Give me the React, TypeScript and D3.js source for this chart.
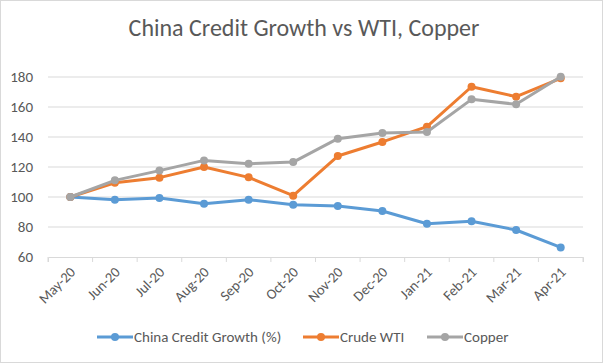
import { useEffect, useRef } from 'react';
import * as d3 from 'd3';

const months = ['May-20', 'Jun-20', 'Jul-20', 'Aug-20', 'Sep-20', 'Oct-20', 'Nov-20', 'Dec-20', 'Jan-21', 'Feb-21', 'Mar-21', 'Apr-21'];
const creditGrowth = [100, 98.2, 99.3, 95.5, 98.2, 94.9, 94, 90.7, 82.2, 83.8, 78, 66.4];
const crudeWti = [100, 109.5, 112.9, 120, 113.1, 100.9, 127.3, 136.7, 146.9, 173.5, 166.9, 179.1];
const copper = [100, 111.1, 117.6, 124.4, 122.2, 123.3, 138.9, 142.7, 143.3, 165.1, 161.8, 180.2];
const yTicks = [60, 80, 100, 120, 140, 160, 180];

const series = [
  { name: 'China Credit Growth (%)', values: creditGrowth, color: '#5B9BD5' },
  { name: 'Crude WTI', values: crudeWti, color: '#ED7D31' },
  { name: 'Copper', values: copper, color: '#A5A5A5' },
];

const W = 603;
const H = 363;
const font = "Carlito, 'Liberation Sans', Arial, sans-serif";

const App = () => {
  const ref = useRef<SVGSVGElement | null>(null);

  useEffect(() => {
    const svg = d3.select(ref.current);
    svg.selectAll('*').remove();

    svg.append('rect')
      .attr('x', 0.5).attr('y', 0.5)
      .attr('width', W - 1).attr('height', H - 1)
      .attr('fill', '#fff').attr('stroke', '#d9d9d9');

    svg.append('text')
      .attr('x', 304).attr('y', 36)
      .attr('text-anchor', 'middle')
      .attr('font-family', font).attr('font-size', 24)
      .attr('fill', '#595959')
      .text('China Credit Growth vs WTI, Copper');

    const x = d3.scaleBand().domain(months).range([48, 583]);
    const y = d3.scaleLinear().domain([60, 180]).range([257, 77]);

    // gridlines
    svg.append('g').selectAll('line')
      .data(yTicks.slice(1))
      .enter().append('line')
      .attr('x1', 48).attr('x2', 583)
      .attr('y1', d => y(d)).attr('y2', d => y(d))
      .attr('stroke', '#d9d9d9').attr('stroke-width', 1);

    // y labels
    svg.append('g').selectAll('text')
      .data(yTicks)
      .enter().append('text')
      .attr('x', 33).attr('y', d => y(d) + 5)
      .attr('text-anchor', 'end')
      .attr('font-family', font).attr('font-size', 15)
      .attr('fill', '#595959')
      .text(d => d);

    // x axis
    const xa = svg.append('g')
      .attr('transform', `translate(0,${y(60)})`)
      .call(d3.axisBottom(x).tickSize(5).tickFormat(() => ''));
    xa.select('.domain').attr('stroke', '#d9d9d9');
    xa.selectAll('.tick line').attr('stroke', '#d9d9d9')
      .attr('transform', `translate(${-x.bandwidth() / 2},0)`);
    xa.append('line')
      .attr('x1', 583).attr('x2', 583).attr('y1', 0).attr('y2', 5)
      .attr('stroke', '#d9d9d9');

    svg.append('g').selectAll('text')
      .data(months)
      .enter().append('text')
      .attr('transform', d => `translate(${x(d)! + x.bandwidth() / 2 + 6},${y(60) + 16}) rotate(-45)`)
      .attr('text-anchor', 'end')
      .attr('font-family', font).attr('font-size', 14.5)
      .attr('fill', '#595959')
      .text(d => d);

    const line = d3.line<number>()
      .x((_, i) => x(months[i])! + x.bandwidth() / 2)
      .y(d => y(d));

    series.forEach(s => {
      svg.append('path')
        .datum(s.values)
        .attr('d', line)
        .attr('fill', 'none')
        .attr('stroke', s.color)
        .attr('stroke-width', 3)
        .attr('stroke-linejoin', 'round');
      svg.append('g').selectAll('circle')
        .data(s.values)
        .enter().append('circle')
        .attr('cx', (_, i) => x(months[i])! + x.bandwidth() / 2)
        .attr('cy', d => y(d))
        .attr('r', 4)
        .attr('fill', s.color);
    });

    // legend
    const legendX = [97, 303, 427];
    const lg = svg.append('g');
    series.forEach((s, i) => {
      const g = lg.append('g').attr('transform', `translate(${legendX[i]},337)`);
      g.append('line').attr('x1', 0).attr('x2', 36).attr('y1', 0).attr('y2', 0)
        .attr('stroke', s.color).attr('stroke-width', 3);
      g.append('circle').attr('cx', 18).attr('cy', 0).attr('r', 4).attr('fill', s.color);
      g.append('text').attr('x', 37).attr('y', 5)
        .attr('font-family', font).attr('font-size', 15)
        .attr('fill', '#595959')
        .text(s.name);
    });
  }, []);

  return (
    <svg ref={ref} width={W} height={H} style={{ position: 'absolute', left: 0, top: 0 }} />
  );
};

export default App;
